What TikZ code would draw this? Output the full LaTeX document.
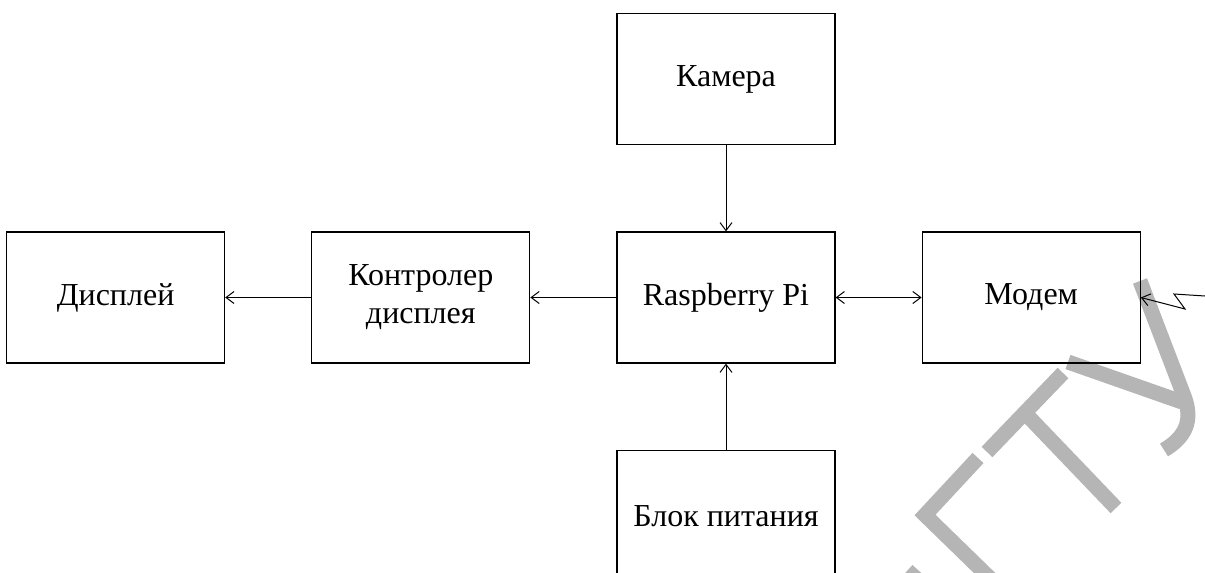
\documentclass[tikz,border=0pt]{standalone}
\usepackage{fontspec}
\setmainfont{Liberation Serif}
\usepackage{tikz}
\usetikzlibrary{positioning}
\usetikzlibrary{arrows.meta}
\tikzset{>={Straight Barb[length=4pt,width=6pt]}}

\begin{document}
\begin{tikzpicture}[x=0.5pt, y=0.5pt, block/.style={rectangle, draw=black, line width=0.6pt, minimum width=109pt, minimum height=65.5pt, align=center, font=\fontsize{16}{19}\selectfont}, link/.style={line width=0.5pt}, wmark/.style={draw=black!29, line width=7.5pt}, node distance=43pt and 43pt]

    \useasboundingbox (0,0) rectangle (1205,-573);
    \clip (0,0) rectangle (1205,-573);

    %Watermark
    \draw[wmark] (978,-458) -- (925,-515) -- (1000,-588);
    \draw[wmark] (987,-452) -- (1063,-373);
    \draw[wmark] (1025,-413) -- (1116,-508);
    \draw[wmark] (1068,-362) -- (1182,-402);
    \draw[wmark] (1140,-281) -- (1184,-396) .. controls (1194,-422) and (1184,-438) .. (1164,-450);
    \draw[wmark] (900,-590) -- (918,-570);

    %Nodes
    \node[block](rpi) at (726,-297.5){Raspberry Pi};
    \node[block](camera)[above=of rpi]{Камера};
    \node[block](power)[below=of rpi]{Блок питания};
    \node[block](controller)[left=of rpi]{Контролер\\дисплея};
    \node[block](display)[left=of controller]{Дисплей};
    \node[block](modem)[right=of rpi]{Модем};
    \coordinate (antenna) at (1205,-296);

    %Lines
    \draw[link, ->] (camera.south) -- (rpi.north);
    \draw[link, ->] (power.north) -- (rpi.south);
    \draw[link, ->] (rpi.west) -- (controller.east);
    \draw[link, ->] (controller.west) -- (display.east);
    \draw[link, <->] (rpi.east) -- (modem.west);
    \draw[link, ->] (antenna) -- (1174,-294) -- (1185,-309) -- (modem.east);

\end{tikzpicture}
\end{document}
